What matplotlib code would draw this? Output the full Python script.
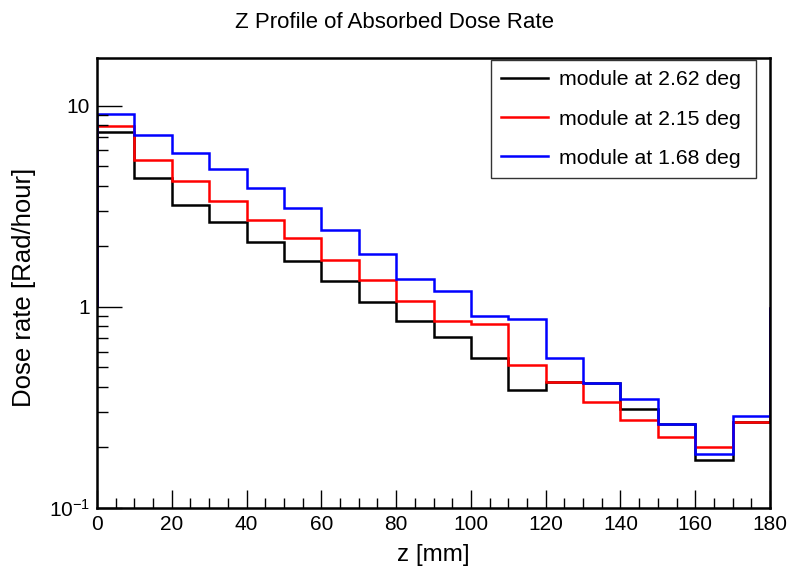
import numpy as np
import matplotlib as mlp

mlp.use('Agg')
import matplotlib.pyplot as plt
from matplotlib.ticker import MultipleLocator, FixedLocator, LogLocator, NullFormatter

plt.rcParams['font.family'] = ['Liberation Sans', 'DejaVu Sans']
plt.rcParams['mathtext.default'] = 'regular'

# bin edges in z [mm]
edges = np.arange(0, 190, 10)

# dose rate [Rad/hour] per bin
dose_262 = [7.4, 4.40, 3.22, 2.64, 2.11, 1.69, 1.34, 1.06, 0.855, 0.711,
            0.56, 0.386, 0.425, 0.42, 0.311, 0.262, 0.173, 0.268]
dose_215 = [7.98, 5.37, 4.25, 3.37, 2.70, 2.20, 1.71, 1.36, 1.075, 0.851,
            0.826, 0.516, 0.425, 0.338, 0.273, 0.225, 0.201, 0.268]
dose_168 = [9.12, 7.15, 5.84, 4.84, 3.89, 3.10, 2.42, 1.84, 1.37, 1.20,
            0.905, 0.871, 0.556, 0.417, 0.347, 0.262, 0.186, 0.288]

labels = ['module at 2.62 deg', 'module at 2.15 deg', 'module at 1.68 deg']
colors = ['black', 'red', 'blue']

fig = plt.figure(figsize=(7.89, 5.70), dpi=100)
ax = fig.add_axes([97 / 789, 62 / 570, 673 / 789, 450 / 570])

for vals, lab, c in zip([dose_262, dose_215, dose_168], labels, colors):
    ax.stairs(vals, edges, baseline=1, color=c, lw=1.8, label=lab)

ax.set_yscale('log')
ax.set_xlim(0, 180)
ax.set_ylim(0.1, 17.3)

# ROOT-like ticks
ax.xaxis.set_major_locator(MultipleLocator(20))
ax.xaxis.set_minor_locator(MultipleLocator(5))
ax.yaxis.set_major_locator(FixedLocator([0.1, 1, 10]))
ax.set_yticklabels(['$10^{-1}$', '1', '10'])
ax.yaxis.set_minor_locator(LogLocator(base=10, subs=np.arange(2, 10)))
ax.yaxis.set_minor_formatter(NullFormatter())
ax.tick_params(axis='both', which='both', direction='in', top=False, right=False,
               labelsize=15)
ax.tick_params(axis='x', which='major', length=13, width=1, pad=5)
ax.tick_params(axis='x', which='minor', length=7, width=1)
ax.tick_params(axis='y', which='major', length=18, width=1, pad=5)
ax.tick_params(axis='y', which='minor', length=8, width=1)
for s in ax.spines.values():
    s.set_linewidth(1.8)

fig.text(0.5, 1 - 22 / 570, 'Z Profile of Absorbed Dose Rate', ha='center', va='center',
         fontsize=16)
ax.set_xlabel('z [mm]', fontsize=17.5)
ax.xaxis.set_label_coords(0.5, -0.08)
ax.set_ylabel('Dose rate [Rad/hour]', fontsize=18.5)
ax.yaxis.set_label_coords(-0.09, 0.49)

leg = ax.legend(loc='upper left', bbox_to_anchor=(0.585, 0.718, 0.394, 0.278),
                mode='expand', fontsize=15.3, frameon=True, fancybox=False,
                borderpad=0.5, labelspacing=0.95, handlelength=2.2,
                handletextpad=0.5, borderaxespad=0)
leg.get_frame().set_edgecolor('black')
leg.get_frame().set_linewidth(1)
for line in leg.get_lines():
    line.set_linewidth(1.8)

plt.savefig('out.png', dpi=100)
